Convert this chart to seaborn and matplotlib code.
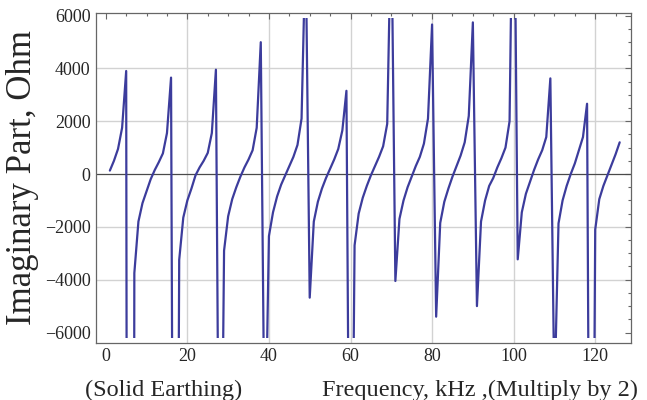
import numpy as np
import pandas as pd
import matplotlib
matplotlib.use("Agg")
import matplotlib.pyplot as plt
import seaborn as sns
from matplotlib.patches import Rectangle
from matplotlib.ticker import MultipleLocator

# ---- data ----
freq = list(range(1, 127))
imag = [
    130, 500, 950, 1750, 3900, -100000, -3750, -1800, -1100, -650,      # 1-10
    -200, 150, 450, 780, 1550, 3650, -36000, -3250, -1650, -1000,        # 11-20
    -550, -50, 250, 500, 800, 1550, 3950, -18600, -2900, -1600,          # 21-30
    -950, -500, -100, 250, 550, 900, 1750, 4990, -11500, -2350,          # 31-40
    -1450, -850, -400, -50, 300, 650, 1100, 2100, 8800, -4680,           # 41-50
    -1800, -1050, -550, -150, 200, 550, 950, 1650, 3150, -20000,         # 51-60
    -2700, -1500, -900, -450, -50, 300, 650, 1050, 1900, 9900,           # 61-70
    -4050, -1700, -1000, -500, -100, 300, 650, 1150, 2100, 5660,         # 71-80
    -5400, -1850, -1050, -550, -100, 300, 700, 1200, 2200, 5740,         # 81-90
    -5000, -1800, -1000, -450, -150, 250, 600, 1000, 2000, 14000,        # 91-100
    -3230, -1450, -750, -300, 150, 550, 900, 1400, 3620, -8500,          # 101-110
    -1870, -1000, -450, 0, 400, 900, 1400, 2660, -27000, -2100,          # 111-120
    -950, -450, -50, 350, 750, 1200,                                     # 121-126
]
x_ticks = [0, 20, 40, 60, 80, 100, 120]
y_ticks = [-6000, -4000, -2000, 0, 2000, 4000, 6000]
x_grid = [20, 40, 60, 80, 100, 120]
y_grid = [-4000, -2000, 2000, 4000]
ylabel = "Imaginary Part, Ohm"
xlabel_left = "(Solid Earthing)"
xlabel_right = "Frequency, kHz ,(Multiply by 2)"

sns.set_style("white")
plt.rcParams['font.family'] = ['Liberation Serif', 'DejaVu Serif']

W, H = 647, 400
fig = plt.figure(figsize=(W / 100, H / 100), dpi=100)
L, R, T, B = 96, 630.7, 13, 342.7
ax = fig.add_axes([L / W, 1 - B / H, (R - L) / W, (B - T) / H])

for gx in x_grid:
    ax.axvline(gx, color='#d2d2d2', lw=1.0, zorder=0)
for gy in y_grid:
    ax.axhline(gy, color='#d2d2d2', lw=1.0, zorder=0)
ax.axhline(0, color='#4a4a4a', lw=0.9, zorder=1)

df = pd.DataFrame({'freq': freq, 'imag': imag})
sns.lineplot(data=df, x='freq', y='imag', ax=ax, color='#3c3c9c', lw=1.6,
             sort=False, estimator=None, zorder=3)

ax.set_xlim(-2.4, 128.7)
ax.set_ylim(-6385, 6095)
clip = Rectangle((-10, -6200), 200, 12100, transform=ax.transData)
for ln in ax.lines[-1:]:
    ln.set_clip_path(clip)

ax.set_xticks(x_ticks)
ax.set_yticks(y_ticks)
ax.xaxis.set_minor_locator(MultipleLocator(5))
ax.yaxis.set_minor_locator(MultipleLocator(500))
ax.tick_params(which='both', direction='in', top=True, right=True,
               color='#666666', width=0.8)
ax.tick_params(which='major', length=4, labelsize=13, pad=4)
ax.tick_params(which='minor', length=2.2)
for s in ax.spines.values():
    s.set_color('#666666')
    s.set_linewidth(0.9)

ax.set_xlabel("")
ax.set_ylabel(ylabel, fontsize=25, labelpad=4)
fig.text(85 / W, 1 - 396 / H, xlabel_left, fontsize=17.5, ha='left', va='baseline')
fig.text(638 / W, 1 - 396 / H, xlabel_right, fontsize=17.5, ha='right', va='baseline')

fig.savefig("out.png", dpi=100)
